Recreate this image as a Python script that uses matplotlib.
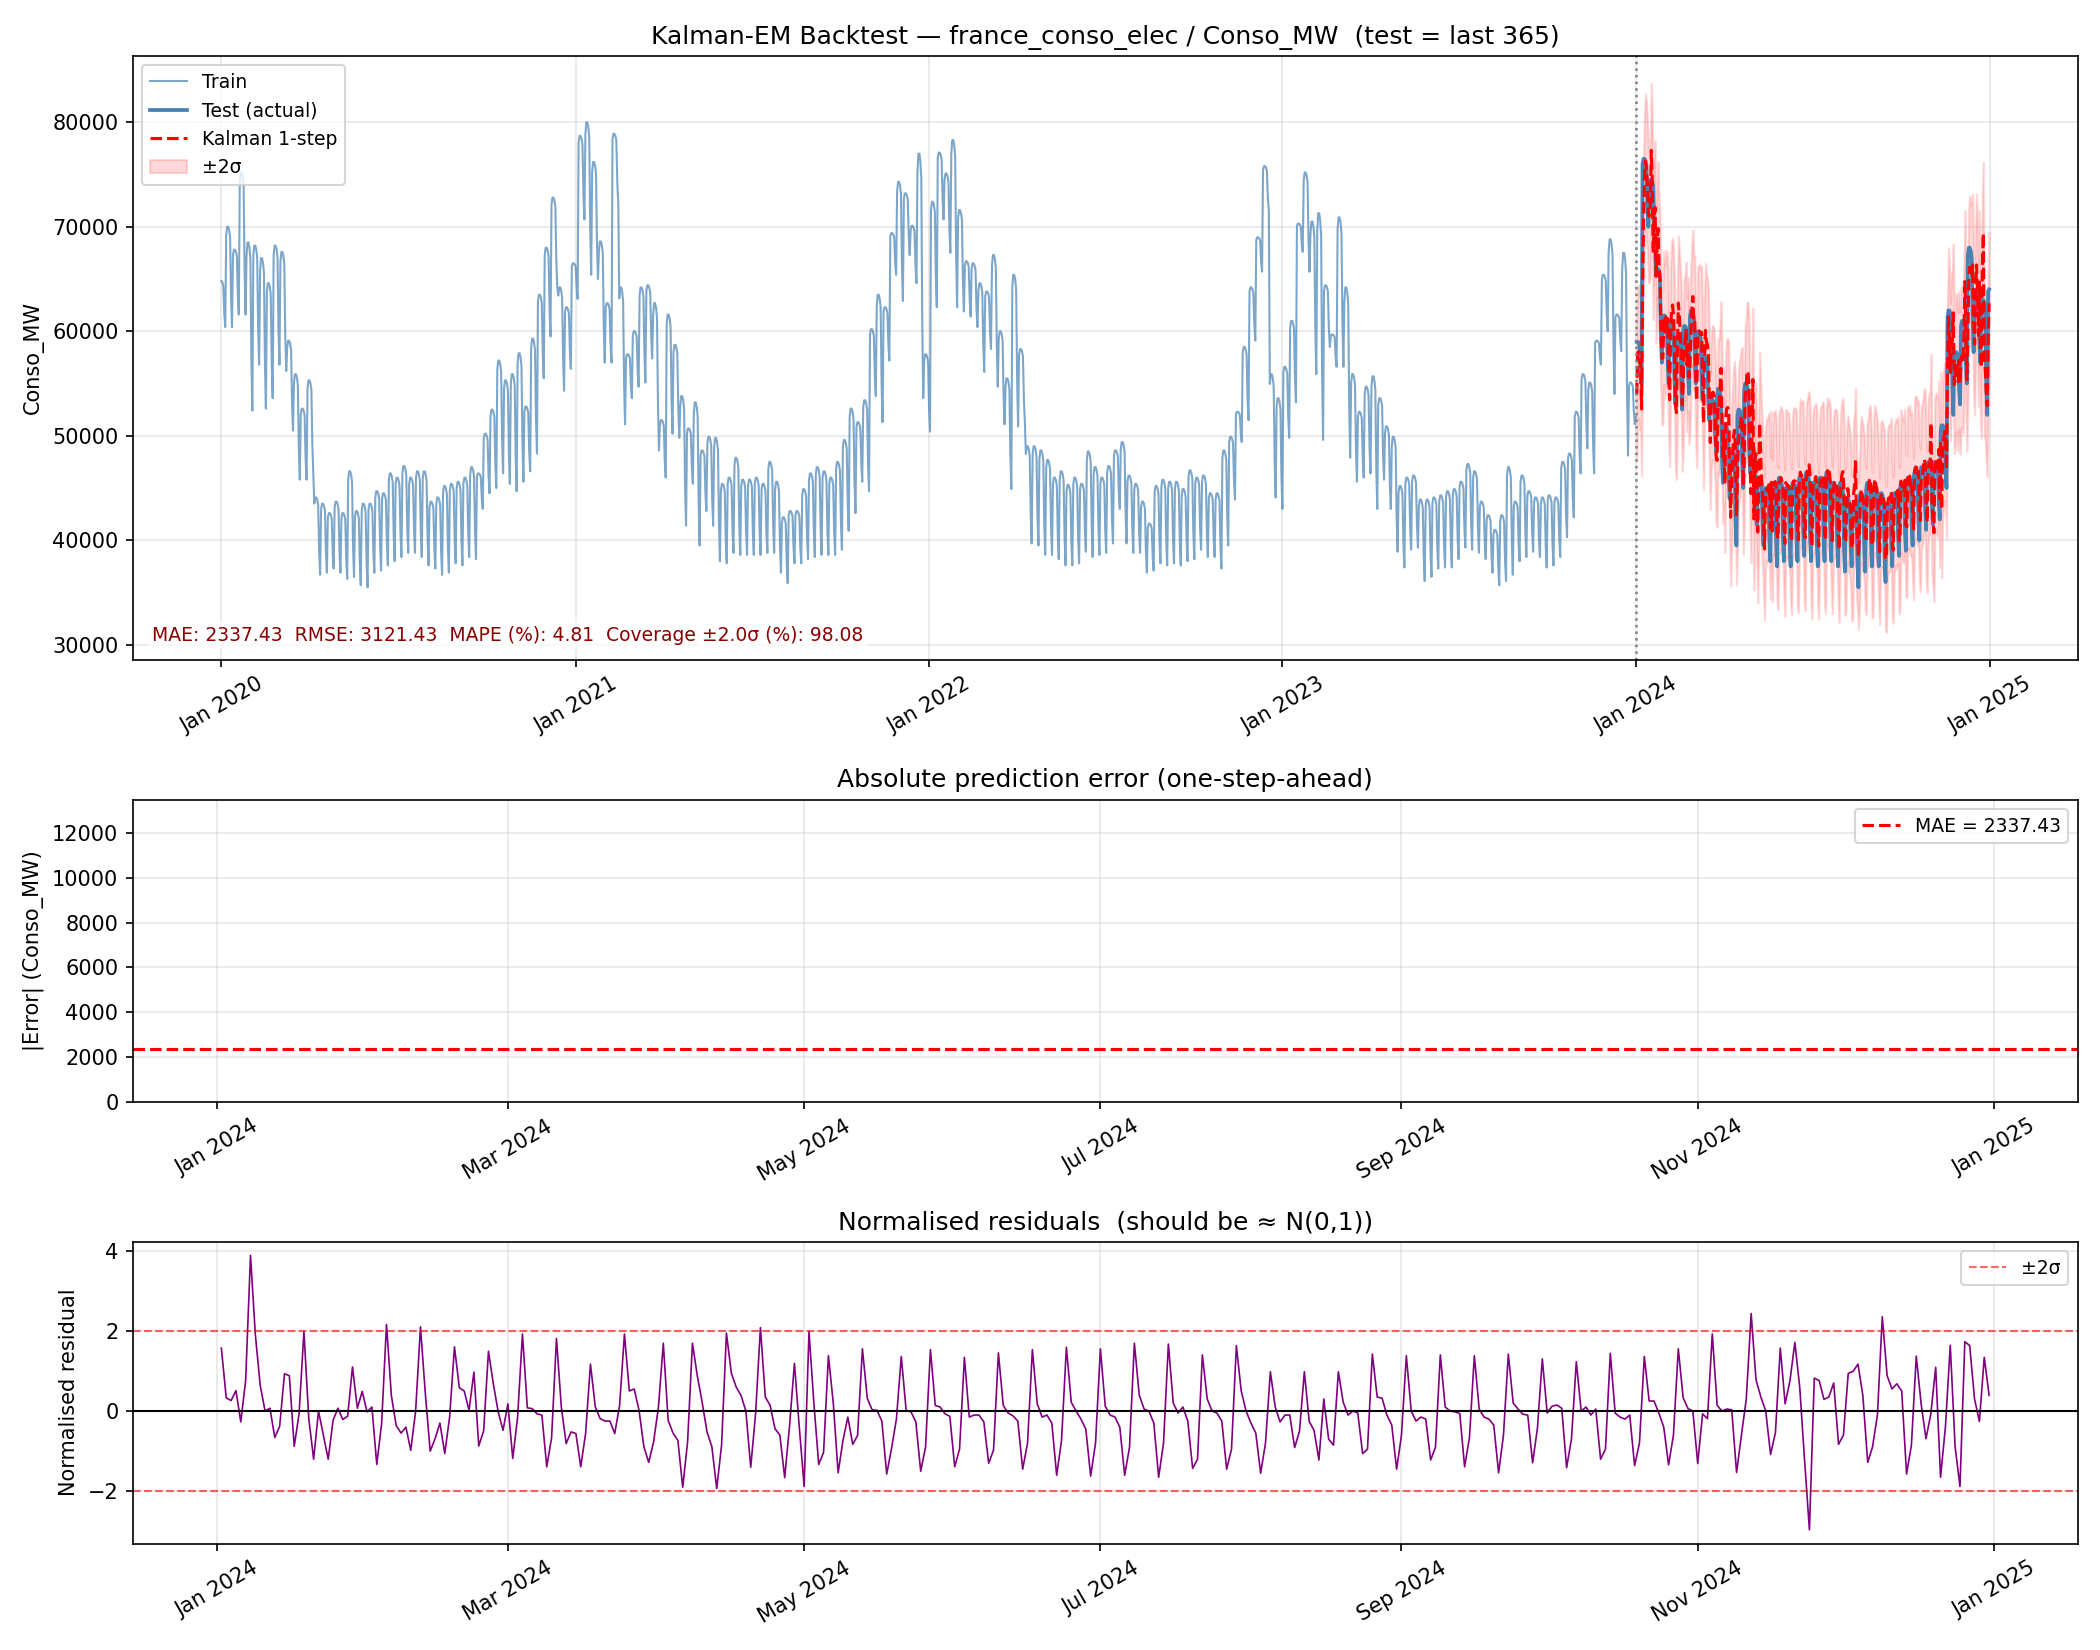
import numpy as np
import pandas as pd
import matplotlib
matplotlib.use("Agg")
import matplotlib.pyplot as plt
import matplotlib.dates as mdates

# ── Data ─────────────────────────────────────────────────────────────────────
TRAIN_START = "2020-01-01"
TRAIN_END = "2024-01-01"
TEST_START = "2024-01-02"
N_TEST = 365

# weekly levels (weeks start on Monday): working-day high / Sunday low, in MW
TRAIN_HI = [
    64800, 70000, 67800, 75200, 68500, 68200, 67000, 64600, 68200, 67600,
    59100, 55900, 52600, 55300, 44100, 43500, 42600, 43700, 42600, 46600,
    42800, 43500, 43500, 44700, 44500, 46400, 46000, 47100, 46000, 46600,
    46600, 43700, 44100, 45200, 45400, 45600, 46000, 47000, 46400, 50200,
    52500, 57200, 55300, 55900, 57900, 52800, 59300, 63500, 68000, 72800,
    64200, 62300, 66500, 78700, 80000, 76200, 68600, 62700, 78900, 64200,
    57800, 60000, 64200, 64400, 62700, 51500, 61600, 58700, 53800, 50700,
    53200, 48600, 49900, 49800, 45400, 46000, 47900, 45800, 45800, 46000,
    45400, 47500, 45600, 42200, 42800, 42800, 44900, 46400, 47000, 46600,
    46000, 47500, 49600, 52600, 51300, 53400, 60200, 63500, 62300, 69400,
    74300, 73200, 70100, 77000, 57800, 72400, 77100, 75100, 78300, 71600,
    66700, 66500, 64600, 63800, 67300, 60000, 55500, 65400, 58300, 49000,
    49000, 48600, 47700, 46000, 46600, 45300, 46000, 45400, 48500, 47000,
    46000, 47100, 48600, 49400, 46200, 45400, 43700, 41600, 45200, 45800,
    45600, 45600, 44900, 46700, 46000, 46200, 44500, 44500, 48600, 49900,
    52300, 58500, 64200, 69000, 75800, 55900, 53600, 56600, 61000, 70300,
    75200, 70500, 71300, 64400, 59700, 70900, 64200, 55900, 52300, 54700,
    55700, 53600, 50900, 49900, 45200, 46000, 46200, 43900, 43900, 44100,
    44300, 44700, 44900, 45600, 47300, 46600, 43700, 42400, 41000, 42400,
    47000, 43700, 46200, 44700, 44100, 44100, 44300, 44100, 47500, 48300,
    52300, 55900, 55100, 59100, 65400, 68800, 61600, 67500, 55100, 52000,
]
TRAIN_LO = [
    60400, 60400, 61600, 61600, 52400, 56800, 52600, 53600, 56800, 56200,
    50500, 45800, 45800, 46400, 36700, 36900, 37300, 36900, 36300, 36500,
    35700, 35500, 36900, 37100, 37600, 38000, 38400, 38800, 38800, 38400,
    37600, 37300, 36700, 36900, 37800, 37600, 38400, 38200, 43000, 44500,
    45000, 46400, 45400, 44700, 45600, 46600, 48300, 55500, 59500, 64200,
    54300, 56400, 63100, 70700, 65400, 65000, 57000, 57000, 72200, 51100,
    53600, 54700, 55100, 57400, 48600, 46000, 50200, 49800, 41400, 45400,
    39500, 42800, 41400, 38000, 37800, 38800, 38600, 38600, 38600, 38600,
    38800, 38800, 36900, 35900, 37800, 37800, 38200, 38400, 38600, 38600,
    38600, 39100, 40900, 42600, 45600, 44700, 53800, 51300, 57200, 65400,
    62900, 67300, 64600, 53600, 50400, 62300, 70700, 67500, 62300, 61900,
    61400, 60400, 56100, 58300, 54700, 51100, 44900, 50900, 51300, 39700,
    39500, 38600, 38600, 38200, 37600, 37600, 37800, 38900, 38400, 38600,
    38800, 39700, 43000, 39700, 38800, 38800, 36900, 37100, 37800, 37600,
    37800, 37600, 38000, 38200, 39100, 38400, 38400, 37300, 39500, 43900,
    49400, 51500, 59100, 65700, 71500, 44100, 43000, 49800, 53200, 67600,
    65700, 55900, 49600, 58500, 56600, 56600, 47900, 45600, 46000, 46400,
    43000, 45800, 43000, 38900, 37400, 39100, 39300, 36100, 36500, 37300,
    37400, 37400, 38200, 39300, 39100, 38800, 38200, 36900, 35700, 36100,
    36700, 38000, 38400, 38900, 38400, 37400, 37600, 38400, 40300, 42200,
    46400, 48800, 46400, 56800, 60000, 54000, 58100, 48100, 51100, 50000,
]

TEST_HI = [
    59000, 76500, 74500, 66000, 61500, 61000, 59500, 60500, 62000, 60000,
    57500, 53500, 54500, 51000, 48500, 52500, 55000, 49000, 46000, 45000,
    45500, 46000, 45000, 45500, 46000, 46500, 45500, 46000, 46500, 45500,
    45500, 44000, 43500, 44500, 45500, 45000, 44500, 43500, 44500, 45500,
    46000, 46500, 47000, 47500, 47500, 51000, 62000, 58000, 61000, 68000,
    64000, 63000, 64000,
]
TEST_LO = [
    55000, 70000, 68000, 57000, 55000, 53000, 52500, 54000, 55000, 53500,
    51500, 48500, 45500, 44000, 39500, 45000, 46500, 41500, 39500, 38000,
    37500, 38000, 37500, 38000, 38500, 38000, 37500, 38000, 38000, 37500,
    37000, 37500, 35500, 37000, 37500, 37500, 36000, 37500, 38500, 39000,
    39500, 40000, 41000, 41500, 42000, 45000, 52000, 53000, 55000, 58000,
    57000, 52000, 62000,
]

# position of each weekday between weekly low (0) and high (1), Mon..Sun
DOW_SHAPE = [0.92, 1.0, 1.0, 0.97, 0.9, 0.3, 0.0]

# normalised residuals, one row per week (first row starts Tue 2 Jan 2024)
RESID_WEEKS = [
    [1.57, 0.33, 0.26, 0.51, -0.27, 0.76],
    [3.88, 1.90, 0.64, 0.00, 0.07, -0.66, -0.38],
    [0.93, 0.88, -0.88, -0.07, 1.98, -0.19, -1.20],
    [0.00, -0.60, -1.20, -0.23, 0.07, -0.21, -0.13],
    [1.10, 0.07, 0.49, -0.02, 0.10, -1.33, -0.31],
    [2.16, 0.39, -0.36, -0.55, -0.40, -0.98, 0.00],
    [2.10, 0.43, -1.00, -0.69, -0.30, -1.06, -0.15],
    [1.60, 0.58, 0.50, 0.02, 0.97, -0.87, -0.50],
    [1.49, 0.68, -0.02, -0.48, 0.18, -1.18, -0.15],
    [1.92, 0.08, 0.06, -0.07, -0.10, -1.39, -0.66],
    [1.81, 0.10, -0.81, -0.52, -0.56, -1.39, -0.56],
    [1.17, 0.10, -0.19, -0.25, -0.25, -0.56, 0.14],
    [1.92, 0.50, 0.55, 0.02, -0.89, -1.28, -0.77],
    [0.10, 1.69, -0.23, -0.55, -0.73, -1.90, -0.77],
    [1.69, 0.88, 0.22, -0.52, -0.89, -1.93, -0.85],
    [1.94, 0.95, 0.60, 0.39, 0.00, -1.40, -0.07],
    [2.08, 0.35, 0.14, -0.44, -0.60, -1.66, -0.36],
    [1.19, -0.40, -1.88, 1.98, 0.20, -1.33, -1.03],
    [1.38, 0.20, -1.54, -0.73, -0.15, -0.83, -0.61],
    [1.55, 0.32, 0.03, 0.02, -0.25, -1.57, -0.93],
    [-0.20, 1.36, 0.02, -0.02, -0.27, -1.50, -0.90],
    [1.53, 0.14, 0.10, -0.07, -0.13, -1.39, -0.95],
    [1.34, -0.15, -0.10, -0.10, -0.27, -1.30, -0.97],
    [1.45, 0.14, -0.05, -0.12, -0.25, -1.45, -0.80],
    [1.53, 0.18, -0.15, -0.10, -0.30, -1.60, -0.73],
    [1.59, 0.22, 0.00, -0.20, -0.45, -1.62, -0.80],
    [1.55, 0.12, -0.10, -0.15, -0.40, -1.60, -0.90],
    [1.69, 0.40, 0.05, 0.00, -0.30, -1.65, -0.80],
    [1.67, 0.20, -0.05, 0.10, -0.25, -1.43, -1.20],
    [1.40, 0.30, 0.00, -0.05, -0.25, -1.45, -0.95],
    [1.63, 0.50, 0.00, -0.30, -0.55, -1.55, -0.80],
    [0.98, 0.10, -0.27, -0.10, -0.10, -0.91, -0.50],
    [0.98, -0.26, -0.48, -1.22, 0.30, -0.70, -0.85],
    [0.98, 0.22, -0.10, 0.00, -0.05, -1.06, -0.95],
    [1.42, 0.35, 0.32, -0.10, -0.35, -1.45, -0.60],
    [1.38, 0.00, -0.25, -0.15, -0.20, -1.22, -0.90],
    [1.40, 0.10, 0.00, -0.02, -0.06, -1.39, -0.66],
    [1.38, 0.05, -0.15, -0.20, -0.35, -1.54, -0.60],
    [1.42, 0.20, 0.05, -0.08, -0.10, -1.29, -0.42],
    [1.30, -0.05, 0.12, 0.15, 0.07, -1.41, -0.70],
    [1.23, 0.00, 0.10, -0.10, 0.05, -1.20, -0.95],
    [1.44, -0.05, -0.15, -0.20, -0.10, -1.36, -0.80],
    [1.36, 0.25, 0.25, -0.05, -0.40, -1.34, -0.60],
    [1.55, 0.33, 0.06, 0.00, -1.31, -0.07, -0.19],
    [1.92, 0.14, 0.00, 0.05, 0.03, -1.53, -0.60],
    [0.30, 2.43, 0.78, 0.35, 0.00, -1.08, -0.54],
    [1.57, 0.18, 0.76, 1.71, 0.60, -1.22, -2.96],
    [0.82, 0.76, 0.29, 0.35, 0.70, -0.83, -0.60],
    [0.94, 0.99, 1.17, 0.39, -1.28, -0.89, -0.10],
    [2.35, 0.88, 0.55, 0.68, 0.50, -1.57, -0.85],
    [1.37, 0.18, -0.69, -0.07, 1.09, -1.65, -0.40],
    [1.64, -0.89, -1.88, 1.73, 1.63, 0.30, -0.26],
    [1.34, 0.39],
]

# one-step predictive std, per month of 2024 (MW)
SIGMA_MONTH = [3200, 3200, 3200, 3300, 3400, 3500, 3500, 3500, 3500, 3400, 3300, 3400]

MAE, RMSE, MAPE, COVERAGE = 2337.43, 3121.43, 4.81, 98.08


def weekly_to_daily(dates, hi, lo):
    first_monday = dates[0] - pd.Timedelta(days=dates[0].weekday())
    wk = np.asarray((dates - first_monday).days // 7)
    shape = np.asarray(DOW_SHAPE)[np.asarray(dates.weekday)]
    hi = np.asarray(hi, float)[wk]
    lo = np.asarray(lo, float)[wk]
    return lo + shape * (hi - lo)


train_dates = pd.date_range(TRAIN_START, TRAIN_END, freq="D")
test_dates = pd.date_range(TEST_START, periods=N_TEST, freq="D")

train = weekly_to_daily(train_dates, TRAIN_HI, TRAIN_LO)
test = weekly_to_daily(test_dates, TEST_HI, TEST_LO)
resid = np.array([v for row in RESID_WEEKS for v in row])
sigma = np.asarray(SIGMA_MONTH, float)[np.asarray(test_dates.month) - 1]
pred = test - resid * sigma

# ── Figure ───────────────────────────────────────────────────────────────────
fig, axes = plt.subplots(3, 1, figsize=(14, 11),
                         gridspec_kw=dict(height_ratios=[2, 1, 1]))
ax1, ax2, ax3 = axes

# 1. backtest
ax1.plot(train_dates, train, color="steelblue", lw=1.0, alpha=0.7, label="Train")
ax1.plot(test_dates, test, color="steelblue", lw=1.8, label="Test (actual)")
ax1.plot(test_dates, pred, color="red", lw=1.5, ls="--", label="Kalman 1-step")
ax1.fill_between(test_dates, pred - 2 * sigma, pred + 2 * sigma,
                 color="red", alpha=0.15, label="±2σ")
ax1.axvline(pd.Timestamp(TRAIN_END), color="grey", ls=":", lw=1.2)
ax1.set_title("Kalman-EM Backtest — france_conso_elec / Conso_MW  (test = last 365)",
              fontsize=12)
ax1.set_ylabel("Conso_MW")
ax1.legend(loc="upper left", fontsize=9)
ax1.grid(alpha=0.3)
ax1.text(0.01, 0.025,
         f"MAE: {MAE:.2f}  RMSE: {RMSE:.2f}  MAPE (%): {MAPE:.2f}  "
         f"Coverage ±2.0σ (%): {COVERAGE:.2f}",
         transform=ax1.transAxes, fontsize=9, color="darkred", va="bottom",
         bbox=dict(facecolor="white", alpha=0.7, edgecolor="none", pad=2))
ax1.xaxis.set_major_locator(mdates.YearLocator())
ax1.xaxis.set_major_formatter(mdates.DateFormatter("%b %Y"))
ax1.tick_params(axis="x", rotation=30)

# 3. normalised residuals
ax3.plot(test_dates, resid, color="purple", lw=0.8)
ax3.axhline(0, color="black", lw=1)
ax3.axhline(2, color="red", ls="--", lw=1, alpha=0.6, label="±2σ")
ax3.axhline(-2, color="red", ls="--", lw=1, alpha=0.6)
ax3.set_title("Normalised residuals  (should be ≈ N(0,1))", fontsize=12)
ax3.set_ylabel("Normalised residual")
ax3.legend(loc="upper right", fontsize=9)
ax3.grid(alpha=0.3)

# 2. absolute error panel
ax2.axhline(MAE, color="red", ls="--", lw=1.5, label=f"MAE = {MAE:.2f}")
ax2.set_xlim(ax3.get_xlim())
ax2.set_ylim(0, 13500)
ax2.set_title("Absolute prediction error (one-step-ahead)", fontsize=12)
ax2.set_ylabel("|Error| (Conso_MW)")
ax2.legend(loc="upper right", fontsize=9)
ax2.grid(alpha=0.3)

for ax in (ax2, ax3):
    ax.xaxis.set_major_locator(mdates.MonthLocator(interval=2))
    ax.xaxis.set_major_formatter(mdates.DateFormatter("%b %Y"))
    ax.tick_params(axis="x", rotation=30)

plt.tight_layout()
plt.savefig("out.png", dpi=150)
plt.close()
